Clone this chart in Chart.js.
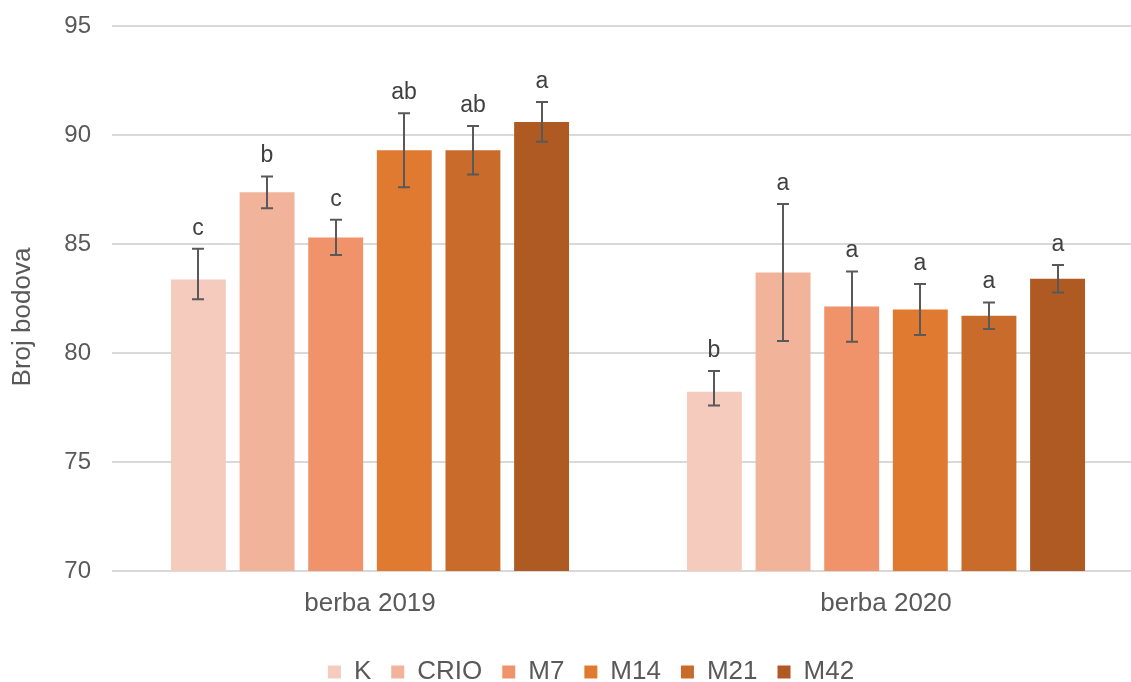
<!DOCTYPE html>
<html><head><meta charset="utf-8">
<script src="https://cdn.jsdelivr.net/npm/chart.js@4.4.1/dist/chart.umd.min.js"></script>
<style>
html,body{margin:0;padding:0;background:#fff;overflow:hidden;width:1131px;height:682px}
#wrap{position:absolute;left:0;top:0;width:1144px;height:682px}
canvas{display:block}
</style>
</head><body><div id="wrap"><canvas id="c" width="1144" height="682"></canvas></div>
<script>
// ---- data ----
const categories = ['berba 2019', 'berba 2020'];
const seriesNames = ['K', 'CRIO', 'M7', 'M14', 'M21', 'M42'];
const valuesK    = [83.37, 78.22];
const valuesCRIO = [87.37, 83.69];
const valuesM7   = [85.30, 82.13];
const valuesM14  = [89.30, 81.99];
const valuesM21  = [89.30, 81.71];
const valuesM42  = [90.60, 83.41];
// error bar extents (plus / minus)
const errPlusK    = [1.41, 0.95];
const errMinusK   = [0.91, 0.63];
const errCRIO     = [0.73, 3.14];
const errM7       = [0.81, 1.61];
const errM14      = [1.70, 1.17];
const errM21      = [1.11, 0.61];
const errM42      = [0.91, 0.63];
// significance letters
const lettersK    = ['c', 'b'];
const lettersCRIO = ['b', 'a'];
const lettersM7   = ['c', 'a'];
const lettersM14  = ['ab', 'a'];
const lettersM21  = ['ab', 'a'];
const lettersM42  = ['a', 'a'];
const yTicks = [70, 75, 80, 85, 90, 95];
const yTitle = 'Broj bodova';

const seriesValues = [valuesK, valuesCRIO, valuesM7, valuesM14, valuesM21, valuesM42];
const seriesErrPlus = [errPlusK, errCRIO, errM7, errM14, errM21, errM42];
const seriesErrMinus = [errMinusK, errCRIO, errM7, errM14, errM21, errM42];
const seriesLetters = [lettersK, lettersCRIO, lettersM7, lettersM14, lettersM21, lettersM42];
const colors = ['#F5CBBE', '#F2B39B', '#F0926A', '#E07A31', '#C96B2A', '#AE5A22'];

const FONT = '"Liberation Sans", Arial, sans-serif';
const TXT = '#595959';

const datasets = seriesNames.map((n, i) => ({
  label: n,
  data: seriesValues[i],
  backgroundColor: colors[i],
  borderWidth: 0,
  categoryPercentage: 0.798,
  barPercentage: 0.80,
  errPlus: seriesErrPlus[i],
  errMinus: seriesErrMinus[i],
  letters: seriesLetters[i]
}));

const errorBars = {
  id: 'errorBars',
  afterDatasetsDraw(chart) {
    const ctx = chart.ctx;
    const ys = chart.scales.y;
    ctx.save();
    chart.data.datasets.forEach((ds, i) => {
      const meta = chart.getDatasetMeta(i);
      meta.data.forEach((el, j) => {
        const v = ds.data[j];
        const top = ys.getPixelForValue(v + ds.errPlus[j]);
        const bot = ys.getPixelForValue(v - ds.errMinus[j]);
        const x = Math.round(el.x);
        ctx.strokeStyle = '#595959';
        ctx.lineWidth = 2;
        ctx.beginPath();
        ctx.moveTo(x, top); ctx.lineTo(x, bot);
        ctx.moveTo(x - 6, top); ctx.lineTo(x + 6, top);
        ctx.moveTo(x - 6, bot); ctx.lineTo(x + 6, bot);
        ctx.stroke();
        ctx.fillStyle = '#404040';
        ctx.font = '23px ' + FONT;
        ctx.textAlign = 'center';
        ctx.textBaseline = 'alphabetic';
        ctx.fillText(ds.letters[j], x, top - 14);
      });
    });
    ctx.restore();
  }
};

const yTitlePlugin = {
  id: 'yTitle',
  afterDraw(chart) {
    const ctx = chart.ctx;
    ctx.save();
    ctx.translate(23, 317);
    ctx.rotate(-Math.PI / 2);
    ctx.fillStyle = TXT;
    ctx.font = '26px ' + FONT;
    ctx.textAlign = 'center';
    ctx.textBaseline = 'middle';
    ctx.fillText(yTitle, 0, 0);
    ctx.restore();
  }
};

const legendShift = {
  id: 'legendShift',
  afterLayout(chart) {
    const l = chart.legend;
    if (!l) return;
    l.left += 19; l.right += 19;
    l.top += 22; l.bottom += 22;
  }
};

new Chart(document.getElementById('c'), {
  type: 'bar',
  data: { labels: categories, datasets },
  options: {
    responsive: false,
    animation: false,
    devicePixelRatio: 1,
    layout: { padding: { top: 26, left: 0, right: 0, bottom: 9 } },
    plugins: {
      legend: {
        position: 'bottom',
        labels: { boxWidth: 13, boxHeight: 13, padding: 20, color: TXT, font: { size: 26, family: FONT } }
      },
      tooltip: { enabled: false }
    },
    scales: {
      x: {
        grid: { display: false, drawTicks: false },
        border: { display: false },
        ticks: { color: TXT, font: { size: 26, family: FONT }, padding: 17 },
        afterFit(s) { s.height = 46; }
      },
      y: {
        min: yTicks[0], max: yTicks[yTicks.length - 1],
        afterBuildTicks(s) { s.ticks = yTicks.map(v => ({ value: v })); },
        ticks: { color: TXT, font: { size: 24, family: FONT }, padding: 0 },
        grid: { color: '#D9D9D9', lineWidth: 2, drawTicks: true, tickLength: 21, tickColor: 'rgba(0,0,0,0)' },
        border: { display: false },
        afterFit(s) { s.width = 112; }
      }
    }
  },
  plugins: [errorBars, yTitlePlugin, legendShift]
});
</script>
</body></html>
